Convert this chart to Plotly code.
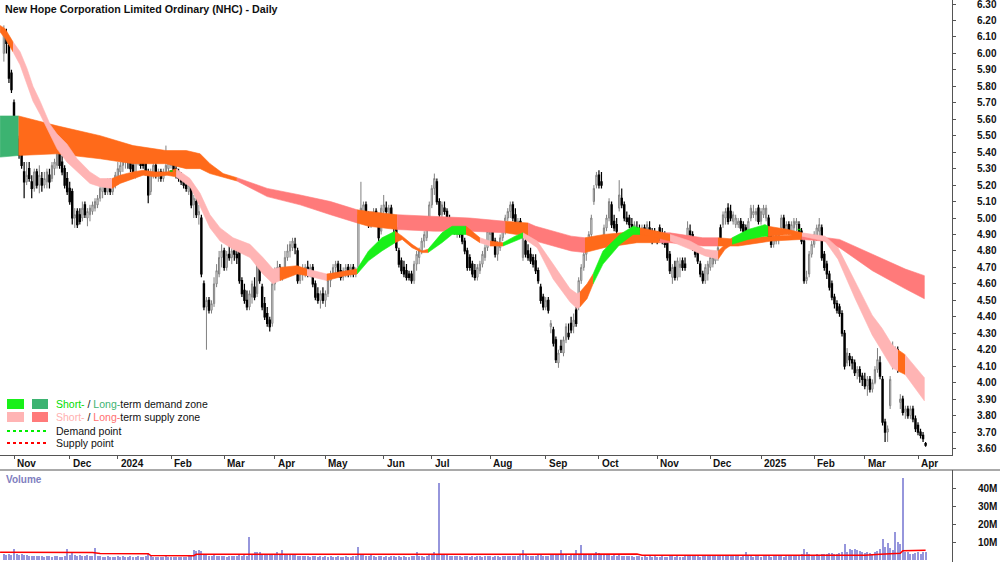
import plotly.graph_objects as go
import pandas as pd

# ---------------- data ----------------
holidays = ['2023-12-25', '2023-12-26', '2024-01-01', '2024-01-26', '2024-03-29', '2024-04-01',
            '2024-04-25', '2024-06-10', '2024-12-25', '2024-12-26', '2025-01-01', '2025-01-27']
dates = pd.bdate_range('2023-10-26', '2025-04-04', freq='C', holidays=holidays)

opens = [6.00, 6.10, 6.05, 5.88, 5.70, 5.45, 5.48, 5.40, 5.28, 5.22, 5.30, 5.22, 5.18, 5.28, 5.20, 5.24, 5.20, 5.22, 5.26, 5.24,
         5.30, 5.32, 5.42, 5.34, 5.30, 5.24, 5.18, 5.16, 5.00, 5.04, 5.02, 5.00, 5.08, 5.00, 5.02, 5.04, 5.06, 5.08, 5.12, 5.16,
         5.18, 5.16, 5.22, 5.16, 5.20, 5.24, 5.28, 5.32, 5.34, 5.36, 5.36, 5.32, 5.26, 5.34, 5.38, 5.38, 5.34, 5.28, 5.16, 5.26,
         5.32, 5.26, 5.28, 5.24, 5.28, 5.30, 5.32, 5.34, 5.30, 5.28, 5.26, 5.24, 5.20, 5.16, 5.18, 5.08, 5.10, 5.02, 5.00, 4.60,
         4.46, 4.50, 4.44, 4.48, 4.60, 4.66, 4.76, 4.80, 4.70, 4.78, 4.76, 4.80, 4.78, 4.80, 4.62, 4.56, 4.50, 4.46, 4.52, 4.58,
         4.54, 4.74, 4.58, 4.48, 4.42, 4.38, 4.36, 4.60, 4.66, 4.70, 4.64, 4.68, 4.76, 4.80, 4.82, 4.84, 4.80, 4.62, 4.66, 4.68,
         4.70, 4.66, 4.70, 4.60, 4.54, 4.50, 4.54, 4.50, 4.54, 4.62, 4.66, 4.70, 4.72, 4.68, 4.64, 4.68, 4.70, 4.66, 4.70, 4.66,
         4.70, 5.00, 5.04, 5.08, 5.00, 4.96, 5.00, 5.04, 4.98, 4.92, 5.04, 5.06, 5.02, 5.06, 5.00, 4.94, 4.80, 4.74, 4.70, 4.68,
         4.66, 4.66, 4.62, 4.72, 4.76, 4.80, 4.86, 4.88, 4.96, 5.08, 5.18, 5.22, 5.10, 5.02, 5.06, 5.04, 4.98, 4.98, 4.96, 4.90,
         4.96, 4.92, 4.86, 4.80, 4.76, 4.72, 4.68, 4.64, 4.68, 4.72, 4.76, 4.82, 4.90, 4.94, 4.86, 4.78, 4.82, 4.88, 4.94, 5.00,
         5.04, 5.08, 5.02, 4.96, 4.98, 4.76, 4.86, 4.80, 4.78, 4.76, 4.74, 4.68, 4.58, 4.52, 4.46, 4.50, 4.34, 4.32, 4.26, 4.12,
         4.22, 4.18, 4.26, 4.30, 4.36, 4.34, 4.44, 4.46, 4.62, 4.70, 4.78, 4.84, 4.90, 5.10, 5.20, 5.26, 5.22, 4.88, 4.94, 5.00,
         5.08, 4.98, 4.96, 5.06, 5.12, 5.08, 5.00, 5.00, 4.96, 4.90, 4.94, 4.92, 4.88, 4.94, 4.88, 4.94, 4.90, 4.90, 4.88, 4.94,
         4.88, 4.90, 4.88, 4.78, 4.64, 4.70, 4.64, 4.70, 4.74, 4.72, 4.86, 4.92, 4.90, 4.84, 4.82, 4.72, 4.66, 4.62, 4.66, 4.70,
         4.72, 4.74, 4.76, 4.94, 4.96, 5.00, 5.06, 5.04, 4.98, 4.96, 4.96, 4.98, 4.96, 4.94, 4.92, 5.00, 5.02, 5.02, 5.06, 4.98,
         5.02, 5.00, 5.00, 4.90, 4.84, 4.86, 4.88, 4.94, 5.00, 4.92, 4.96, 4.92, 4.94, 4.96, 4.96, 4.92, 4.86, 4.62, 4.66, 4.78,
         4.84, 4.88, 4.92, 4.94, 4.78, 4.72, 4.66, 4.60, 4.52, 4.48, 4.46, 4.42, 4.30, 4.12, 4.16, 4.14, 4.12, 4.06, 4.08, 4.04,
         4.02, 3.98, 4.02, 3.96, 4.00, 4.08, 4.12, 4.02, 3.76, 3.70, 3.86, 4.10, 4.16, 4.20, 3.88, 3.90, 3.82, 3.84, 3.80, 3.84,
         3.78, 3.74, 3.70, 3.68, 3.63]
highs = [6.17, 6.15, 6.08, 5.90, 5.72, 5.58, 5.50, 5.42, 5.34, 5.34, 5.34, 5.26, 5.30, 5.30, 5.32, 5.28, 5.28, 5.30, 5.30, 5.34,
         5.36, 5.46, 5.44, 5.38, 5.32, 5.28, 5.22, 5.18, 5.06, 5.06, 5.06, 5.10, 5.10, 5.06, 5.08, 5.10, 5.12, 5.14, 5.20, 5.22,
         5.22, 5.24, 5.24, 5.22, 5.28, 5.34, 5.34, 5.38, 5.40, 5.40, 5.44, 5.34, 5.36, 5.40, 5.40, 5.40, 5.36, 5.30, 5.30, 5.34,
         5.34, 5.30, 5.30, 5.30, 5.44, 5.36, 5.36, 5.36, 5.32, 5.30, 5.28, 5.26, 5.22, 5.22, 5.20, 5.14, 5.12, 5.08, 5.02, 4.62,
         4.52, 4.52, 4.50, 4.64, 4.72, 4.80, 4.84, 4.82, 4.80, 4.84, 4.82, 4.84, 4.82, 4.82, 4.64, 4.60, 4.56, 4.56, 4.62, 4.64,
         4.74, 4.76, 4.60, 4.52, 4.46, 4.40, 4.64, 4.70, 4.74, 4.72, 4.70, 4.80, 4.84, 4.86, 4.88, 4.88, 4.82, 4.68, 4.72, 4.72,
         4.74, 4.72, 4.72, 4.62, 4.58, 4.56, 4.58, 4.56, 4.64, 4.68, 4.72, 4.74, 4.74, 4.72, 4.70, 4.72, 4.72, 4.72, 4.72, 4.70,
         5.04, 5.22, 5.10, 5.10, 5.04, 5.04, 5.06, 5.06, 5.00, 5.08, 5.14, 5.10, 5.08, 5.08, 5.02, 4.96, 4.82, 4.76, 4.74, 4.72,
         4.68, 4.68, 4.74, 4.80, 4.82, 4.88, 4.92, 4.98, 5.10, 5.20, 5.27, 5.24, 5.12, 5.10, 5.10, 5.06, 5.02, 5.00, 4.98, 4.98,
         4.98, 4.94, 4.88, 4.82, 4.78, 4.74, 4.72, 4.72, 4.74, 4.80, 4.84, 4.94, 4.96, 4.96, 4.88, 4.86, 4.90, 4.96, 5.02, 5.06,
         5.10, 5.10, 5.06, 5.00, 5.00, 4.92, 4.88, 4.84, 4.82, 4.78, 4.78, 4.70, 4.60, 4.54, 4.52, 4.52, 4.38, 4.34, 4.28, 4.20,
         4.26, 4.28, 4.36, 4.36, 4.40, 4.42, 4.46, 4.64, 4.72, 4.80, 4.86, 4.92, 5.02, 5.20, 5.28, 5.29, 5.28, 4.96, 5.02, 5.12,
         5.10, 5.02, 5.00, 5.23, 5.18, 5.10, 5.04, 5.02, 5.00, 4.98, 4.98, 4.96, 4.96, 4.96, 4.98, 4.98, 4.94, 4.94, 4.92, 4.96,
         4.94, 4.92, 4.90, 4.80, 4.72, 4.74, 4.76, 4.76, 4.76, 4.76, 4.98, 4.96, 4.92, 4.86, 4.84, 4.74, 4.68, 4.72, 4.74, 4.78,
         4.78, 4.80, 4.84, 4.96, 5.04, 5.06, 5.09, 5.08, 5.04, 5.02, 5.00, 5.00, 4.98, 4.96, 5.00, 5.08, 5.08, 5.06, 5.08, 5.06,
         5.08, 5.08, 5.02, 4.92, 4.90, 4.92, 4.92, 5.02, 5.02, 4.98, 4.98, 4.98, 5.00, 5.00, 4.98, 4.94, 4.88, 4.68, 4.80, 4.86,
         4.92, 4.96, 5.00, 4.96, 4.80, 4.74, 4.68, 4.62, 4.54, 4.50, 4.48, 4.44, 4.32, 4.21, 4.18, 4.16, 4.14, 4.10, 4.10, 4.06,
         4.06, 4.04, 4.04, 4.02, 4.10, 4.21, 4.16, 4.04, 3.78, 3.74, 4.04, 4.25, 4.22, 4.22, 3.93, 3.92, 3.86, 3.86, 3.86, 3.86,
         3.80, 3.76, 3.72, 3.70, 3.64]
lows = [5.95, 6.00, 5.82, 5.76, 5.42, 5.40, 5.36, 5.30, 5.12, 5.20, 5.22, 5.12, 5.16, 5.18, 5.15, 5.16, 5.18, 5.18, 5.18, 5.22,
        5.26, 5.30, 5.30, 5.26, 5.18, 5.14, 5.08, 4.96, 4.94, 4.94, 4.96, 4.98, 5.00, 4.95, 4.98, 5.02, 5.04, 5.06, 5.10, 5.12,
        5.14, 5.14, 5.14, 5.14, 5.18, 5.20, 5.22, 5.28, 5.30, 5.30, 5.28, 5.24, 5.24, 5.32, 5.30, 5.30, 5.26, 5.09, 5.14, 5.24,
        5.24, 5.22, 5.22, 5.22, 5.26, 5.28, 5.30, 5.26, 5.24, 5.22, 5.20, 5.18, 5.16, 5.14, 5.06, 5.00, 5.00, 4.96, 4.64, 4.44,
        4.20, 4.42, 4.42, 4.46, 4.58, 4.64, 4.70, 4.68, 4.68, 4.74, 4.72, 4.74, 4.72, 4.60, 4.52, 4.48, 4.44, 4.44, 4.48, 4.50,
        4.52, 4.60, 4.44, 4.38, 4.34, 4.31, 4.34, 4.56, 4.62, 4.62, 4.62, 4.66, 4.74, 4.76, 4.80, 4.78, 4.60, 4.60, 4.62, 4.64,
        4.64, 4.64, 4.58, 4.50, 4.48, 4.45, 4.48, 4.46, 4.52, 4.58, 4.64, 4.66, 4.64, 4.62, 4.62, 4.64, 4.64, 4.64, 4.64, 4.64,
        4.68, 4.98, 5.00, 5.00, 4.94, 4.94, 4.98, 4.96, 4.86, 4.90, 5.00, 5.00, 5.00, 4.98, 4.90, 4.80, 4.70, 4.66, 4.64, 4.62,
        4.62, 4.60, 4.60, 4.68, 4.72, 4.78, 4.82, 4.86, 4.94, 5.06, 5.14, 5.08, 5.00, 5.00, 5.02, 4.96, 4.94, 4.92, 4.90, 4.88,
        4.88, 4.84, 4.78, 4.68, 4.68, 4.64, 4.62, 4.62, 4.66, 4.70, 4.74, 4.80, 4.86, 4.84, 4.76, 4.74, 4.80, 4.86, 4.90, 4.98,
        5.00, 4.98, 4.94, 4.92, 4.90, 4.74, 4.76, 4.74, 4.72, 4.70, 4.66, 4.60, 4.48, 4.44, 4.44, 4.42, 4.30, 4.22, 4.12, 4.09,
        4.18, 4.16, 4.24, 4.26, 4.30, 4.30, 4.34, 4.44, 4.60, 4.68, 4.74, 4.80, 4.88, 5.08, 5.18, 5.18, 5.18, 4.86, 4.92, 4.98,
        4.94, 4.92, 4.90, 5.04, 5.06, 4.98, 4.96, 4.94, 4.90, 4.88, 4.88, 4.86, 4.86, 4.88, 4.86, 4.88, 4.84, 4.86, 4.84, 4.86,
        4.84, 4.82, 4.74, 4.66, 4.60, 4.62, 4.62, 4.64, 4.68, 4.68, 4.84, 4.86, 4.80, 4.76, 4.72, 4.64, 4.60, 4.60, 4.62, 4.68,
        4.70, 4.72, 4.74, 4.84, 4.94, 4.96, 4.96, 4.98, 4.96, 4.94, 4.94, 4.92, 4.90, 4.86, 4.90, 4.98, 5.00, 4.98, 4.96, 4.96,
        5.00, 4.98, 4.86, 4.82, 4.82, 4.84, 4.84, 4.92, 4.92, 4.90, 4.90, 4.90, 4.92, 4.92, 4.90, 4.84, 4.60, 4.60, 4.64, 4.76,
        4.82, 4.86, 4.88, 4.74, 4.68, 4.63, 4.56, 4.50, 4.45, 4.42, 4.40, 4.28, 4.08, 4.10, 4.10, 4.08, 4.04, 4.02, 4.00, 3.98,
        3.96, 3.92, 3.94, 3.94, 3.99, 4.06, 4.02, 3.74, 3.64, 3.64, 3.84, 4.08, 4.12, 4.06, 3.84, 3.80, 3.78, 3.78, 3.78, 3.76,
        3.70, 3.68, 3.66, 3.64, 3.61]
closes = [6.12, 6.06, 5.85, 5.78, 5.45, 5.52, 5.38, 5.32, 5.22, 5.26, 5.24, 5.18, 5.28, 5.20, 5.26, 5.20, 5.24, 5.28, 5.22, 5.32,
          5.34, 5.42, 5.32, 5.28, 5.20, 5.16, 5.10, 5.00, 5.02, 4.96, 4.98, 5.06, 5.02, 5.04, 5.06, 5.08, 5.10, 5.12, 5.18, 5.20,
          5.16, 5.22, 5.16, 5.20, 5.26, 5.30, 5.32, 5.36, 5.38, 5.34, 5.30, 5.26, 5.34, 5.38, 5.32, 5.32, 5.28, 5.14, 5.28, 5.32,
          5.26, 5.28, 5.24, 5.28, 5.32, 5.34, 5.34, 5.28, 5.26, 5.24, 5.22, 5.20, 5.18, 5.20, 5.08, 5.12, 5.02, 5.04, 4.66, 4.46,
          4.50, 4.44, 4.48, 4.60, 4.68, 4.76, 4.80, 4.70, 4.78, 4.76, 4.80, 4.78, 4.76, 4.62, 4.54, 4.50, 4.46, 4.54, 4.60, 4.52,
          4.72, 4.62, 4.46, 4.40, 4.36, 4.34, 4.60, 4.66, 4.70, 4.64, 4.68, 4.76, 4.80, 4.84, 4.86, 4.82, 4.62, 4.66, 4.68, 4.70,
          4.66, 4.70, 4.60, 4.52, 4.50, 4.54, 4.50, 4.54, 4.62, 4.66, 4.70, 4.72, 4.66, 4.64, 4.68, 4.70, 4.66, 4.70, 4.66, 4.68,
          5.02, 5.06, 5.08, 5.02, 4.96, 5.02, 5.04, 4.98, 4.88, 5.06, 5.08, 5.04, 5.06, 5.00, 4.94, 4.82, 4.72, 4.68, 4.66, 4.64,
          4.64, 4.62, 4.72, 4.78, 4.80, 4.86, 4.90, 4.96, 5.08, 5.18, 5.24, 5.10, 5.02, 5.08, 5.04, 4.98, 4.96, 4.94, 4.92, 4.96,
          4.90, 4.86, 4.80, 4.70, 4.70, 4.66, 4.64, 4.70, 4.72, 4.78, 4.82, 4.92, 4.94, 4.86, 4.78, 4.84, 4.88, 4.94, 5.00, 5.04,
          5.08, 5.00, 4.96, 4.98, 4.92, 4.88, 4.78, 4.76, 4.74, 4.72, 4.68, 4.62, 4.50, 4.46, 4.50, 4.44, 4.36, 4.24, 4.14, 4.18,
          4.20, 4.26, 4.34, 4.28, 4.32, 4.38, 4.36, 4.62, 4.70, 4.78, 4.84, 4.90, 5.00, 5.18, 5.26, 5.20, 5.20, 4.94, 5.00, 5.10,
          4.96, 4.94, 4.92, 5.14, 5.08, 5.00, 4.98, 4.96, 4.94, 4.96, 4.92, 4.90, 4.94, 4.90, 4.96, 4.92, 4.88, 4.88, 4.86, 4.88,
          4.86, 4.84, 4.76, 4.68, 4.70, 4.64, 4.74, 4.72, 4.70, 4.70, 4.94, 4.90, 4.82, 4.78, 4.74, 4.66, 4.62, 4.70, 4.72, 4.76,
          4.76, 4.78, 4.82, 4.88, 5.02, 5.04, 4.98, 5.00, 5.02, 5.00, 4.98, 4.94, 4.92, 4.88, 4.98, 5.06, 5.04, 5.04, 4.98, 5.04,
          5.06, 5.06, 4.88, 4.84, 4.88, 4.90, 4.90, 5.00, 4.94, 4.96, 4.92, 4.96, 4.98, 4.98, 4.92, 4.86, 4.62, 4.64, 4.78, 4.84,
          4.90, 4.94, 4.96, 4.76, 4.70, 4.66, 4.58, 4.52, 4.48, 4.44, 4.42, 4.30, 4.10, 4.18, 4.14, 4.12, 4.06, 4.08, 4.04, 4.02,
          3.98, 4.02, 3.96, 4.00, 4.08, 4.14, 4.04, 3.76, 3.70, 3.72, 4.02, 4.18, 4.20, 4.08, 3.90, 3.82, 3.84, 3.80, 3.84, 3.78,
          3.72, 3.70, 3.68, 3.66, 3.62]

volume_m = [3.2, 2.8, 3.5, 3.0, 6.1, 3.4, 2.9, 3.1, 2.6, 2.7, 2.4, 2.2, 2.5, 2.0, 2.3, 2.1, 1.9, 2.2, 2.0, 1.8,
            2.1, 2.4, 1.9, 1.7, 2.0, 6.1, 3.0, 4.6, 2.6, 2.4, 2.8, 2.5, 2.2, 2.6, 2.3, 2.1, 6.6, 2.4, 2.0, 1.9,
            1.8, 2.1, 1.7, 1.6, 1.9, 2.2, 1.8, 2.0, 1.7, 1.9, 2.3, 1.8, 1.6, 2.0, 1.7, 1.9, 2.1, 3.9, 2.2, 1.8,
            1.7, 1.9, 1.6, 1.8, 2.0, 1.7, 1.5, 1.8, 1.6, 1.9, 1.7, 1.5, 1.8, 2.2, 2.6, 5.6, 4.8, 5.6, 5.2, 3.4,
            2.8, 2.5, 2.2, 2.6, 2.3, 2.0, 2.4, 2.2, 1.9, 2.1, 2.5, 2.0, 2.3, 2.6, 2.2, 3.0, 2.4, 13.0, 2.8, 4.6,
            4.4, 4.6, 3.2, 2.8, 3.0, 3.4, 2.6, 3.0, 4.2, 3.6, 5.6, 3.2, 2.8, 3.0, 2.6, 2.9, 2.4, 2.2, 2.0, 2.3,
            2.1, 1.9, 2.2, 2.0, 1.8, 2.1, 1.9, 2.0, 1.7, 2.2, 1.9, 1.8, 2.0, 1.7, 1.9, 2.1, 1.8, 1.6, 2.0, 2.4,
            7.2, 3.6, 2.8, 2.4, 2.2, 2.6, 2.0, 1.8, 2.3, 2.1, 1.9, 2.2, 1.7, 2.0, 2.4, 1.9, 2.1, 1.8, 2.2, 1.6,
            1.9, 2.1, 2.3, 4.6, 2.0, 2.2, 1.8, 2.5, 2.8, 3.0, 4.6, 3.2, 42.8, 3.6, 3.0, 2.6, 2.4, 2.2, 2.0, 2.3,
            2.1, 1.9, 2.2, 2.0, 1.8, 2.1, 1.9, 2.3, 2.0, 1.8, 2.2, 2.4, 2.1, 1.9, 2.3, 2.0, 1.8, 2.2, 2.0, 2.4,
            2.2, 2.0, 2.3, 2.1, 2.6, 5.6, 2.8, 2.4, 2.2, 2.0, 2.3, 2.6, 2.9, 2.5, 2.2, 2.4, 2.8, 3.0, 2.6, 3.2,
            5.6, 3.0, 2.8, 2.5, 3.2, 3.0, 5.6, 2.9, 8.3, 3.4, 3.0, 2.8, 3.2, 3.6, 4.6, 3.8, 3.4, 3.0, 2.8, 2.6,
            2.4, 2.6, 2.2, 2.8, 2.4, 2.2, 2.0, 2.3, 2.1, 1.9, 2.2, 2.0, 1.8, 2.1, 1.9, 2.0, 1.7, 2.2, 1.9, 1.8,
            2.0, 1.7, 1.9, 2.3, 2.1, 1.8, 2.0, 1.9, 1.7, 2.0, 2.4, 2.2, 2.0, 2.3, 2.1, 1.9, 2.6, 2.2, 2.0, 2.4,
            2.2, 2.0, 2.5, 2.8, 2.4, 2.2, 2.6, 2.3, 2.0, 2.2, 2.1, 1.9, 2.3, 4.6, 2.4, 2.1, 1.9, 2.2, 2.0, 1.8,
            2.1, 2.3, 2.0, 1.9, 2.2, 2.0, 2.4, 2.1, 1.9, 2.3, 2.1, 2.0, 2.2, 2.4, 2.8, 3.6, 6.1, 4.2, 3.4, 3.0,
            2.8, 3.2, 2.9, 3.4, 3.6, 3.2, 3.8, 4.0, 3.6, 3.4, 3.8, 4.2, 8.9, 4.6, 5.9, 5.6, 5.9, 5.4, 4.8, 4.2,
            3.8, 4.4, 4.0, 3.6, 4.2, 5.2, 6.1, 11.7, 7.4, 9.4, 6.8, 5.8, 15.7, 9.8, 8.7, 45.7, 4.6, 4.2, 3.6, 3.2,
            3.8, 4.4, 3.6, 4.2, 4.6]

# volume average line (sampled: bar index, millions)
vol_avg_idx = [-1.5, 35, 38, 57, 58, 75, 76, 171, 172, 250, 252, 340, 346, 354, 355, 364]
vol_avg_m = [4.3, 4.2, 3.6, 3.5, 2.5, 2.4, 3.2, 3.2, 3.4, 3.3, 2.6, 2.6, 3.2, 3.7, 5.2, 5.4]

# short-term zone: bar index, upper, lower, state (D=demand, S=supply, N=neutral)
st_idx = [-1.5, 0.5, 3.6, 6.4, 9.1, 11.5, 14.3, 18.2, 21.0, 24.9, 28.9, 34.0, 38.0, 42.7, 45.9, 51.0, 55.0, 59.7,
          64.4, 68.0, 73.5, 77.5, 81.4, 85.4, 90.5, 97.2, 102.3, 106.3, 109.0, 115.8, 119.7, 127.5, 134.7, 139.5,
          144.0, 149.3, 154.5, 157.3, 161.2, 165.1, 167.5, 173.0, 177.0, 182.5, 184.1, 188.0, 192.0, 197.1, 201.9,
          205.0, 210.6, 216.9, 223.6, 226.4, 227.5, 230.3, 232.7, 236.6, 243.3, 248.5, 251.2, 258.0, 263.1, 271.0,
          276.9, 282.1, 284.8, 287.6, 293.9, 300.6, 301.8, 309.7, 315.2, 324.3, 329.4, 336.2, 342.9, 346.8, 350.8,
          353.1, 355.9, 363.5]
st_hi = [6.17, 6.15, 6.07, 6.01, 5.91, 5.80, 5.71, 5.57, 5.51, 5.45, 5.36, 5.28, 5.24, 5.24, 5.26, 5.28, 5.29, 5.28,
         5.28, 5.30, 5.24, 5.15, 5.02, 4.94, 4.88, 4.84, 4.76, 4.69, 4.70, 4.71, 4.69, 4.66, 4.68, 4.69,
         4.80, 4.88, 4.92, 4.89, 4.84, 4.80, 4.81, 4.91, 4.95, 4.95, 4.93, 4.88, 4.86, 4.85, 4.89,
         4.91, 4.86, 4.72, 4.57, 4.54, 4.55, 4.60, 4.66, 4.80, 4.90, 4.95, 4.94, 4.92, 4.90, 4.86,
         4.81, 4.80, 4.84, 4.88, 4.93, 4.96, 4.95, 4.93, 4.91, 4.89, 4.82, 4.61, 4.41, 4.33, 4.23,
         4.20, 4.17, 4.03]
st_lo = [6.13, 6.09, 6.01, 5.93, 5.81, 5.71, 5.63, 5.51, 5.42, 5.34, 5.28, 5.21, 5.19, 5.18, 5.21, 5.24, 5.26, 5.25,
         5.26, 5.25, 5.19, 5.07, 4.94, 4.86, 4.81, 4.76, 4.66, 4.60, 4.62, 4.66, 4.65, 4.62, 4.65, 4.66,
         4.74, 4.80, 4.85, 4.87, 4.82, 4.79, 4.79, 4.85, 4.90, 4.90, 4.89, 4.85, 4.83, 4.83, 4.86,
         4.88, 4.82, 4.63, 4.49, 4.45, 4.46, 4.51, 4.60, 4.72, 4.84, 4.90, 4.90, 4.88, 4.86, 4.81,
         4.77, 4.75, 4.81, 4.84, 4.87, 4.89, 4.89, 4.90, 4.89, 4.86, 4.75, 4.51, 4.29, 4.19, 4.09,
         4.07, 4.05, 3.89]
st_state = ['N', 'N', 'S', 'S', 'S', 'S', 'S', 'S', 'S', 'S', 'S', 'S', 'S', 'N', 'N', 'N', 'N', 'N',
            'N', 'S', 'S', 'S', 'S', 'S', 'S', 'S', 'S', 'S', 'N', 'N', 'S', 'N', 'N', 'D',
            'D', 'D', 'N', 'N', 'N', 'N', 'D', 'D', 'D', 'N', 'N', 'S', 'N', 'D', 'D',
            'S', 'S', 'S', 'S', 'S', 'N', 'N', 'D', 'D', 'D', 'D', 'N', 'N', 'S', 'S',
            'S', 'N', 'N', 'D', 'D', 'D', 'N', 'N', 'S', 'S', 'S', 'S', 'S', 'S', 'S',
            'N', 'S', 'S']

# long-term zone
lt_idx = [-1.5, 5.8, 21, 38, 51, 64, 72, 77.5, 81.4, 86.6, 92, 104, 117, 129, 139.5, 144, 155.3, 170, 184, 198,
          207, 210, 224, 229.5, 237, 250, 259, 263, 276, 282, 290, 303, 315, 324, 330, 343, 356, 363.5]
lt_hi = [5.62, 5.62, 5.56, 5.50, 5.44, 5.41, 5.41, 5.39, 5.33, 5.27, 5.245, 5.18, 5.14, 5.10, 5.05, 5.04, 5.02, 5.01,
         5.00, 4.98, 4.97, 4.95, 4.89, 4.88, 4.90, 4.92, 4.91, 4.91, 4.88, 4.88, 4.87, 4.89, 4.90, 4.88, 4.87, 4.78,
         4.69, 4.65]
lt_lo = [5.37, 5.38, 5.39, 5.36, 5.33, 5.33, 5.30, 5.30, 5.27, 5.25, 5.225, 5.13, 5.08, 5.02, 4.97, 4.95, 4.93, 4.92,
         4.92, 4.91, 4.89, 4.86, 4.80, 4.79, 4.82, 4.85, 4.85, 4.85, 4.83, 4.83, 4.83, 4.86, 4.87, 4.86, 4.82, 4.68,
         4.57, 4.51]
lt_state = ['D', 'N', 'N', 'N', 'N', 'N', 'N', 'N', 'N', 'N', 'S', 'S', 'S', 'S', 'N', 'N', 'S', 'S', 'S', 'N',
            'S', 'S', 'S', 'N', 'N', 'N', 'S', 'S', 'S', 'N', 'N', 'N', 'S', 'S', 'S', 'S', 'S', 'S']

# demand points (bar index start, end, price)
demand_pts = [(65.5, 68.0, 5.285), (313.5, 315.5, 4.93)]

price_ticks = [round(3.6 + 0.1 * i, 2) for i in range(28)]
vol_ticks_m = [10, 20, 30, 40]

# ---------------- styling ----------------
COL = {
    'st': {'D': '#19f019', 'S': '#ffb4b4', 'N': '#ff6a1a'},
    'lt': {'D': '#3cb371', 'S': '#ff7a7a', 'N': '#ff6a1a'},
}
FONT = 'Liberation Sans'
W, H = 1000, 562
PLOT_R = 952
PRICE_BOTTOM_PX = 455
VOL_TOP_PX = 470

xs = list(range(len(dates)))
n_bars = len(dates)

# bar index <-> pixel mapping from month ticks (Nov-2023 at px 14, Apr-2025 at px 918)
month_idx = [i for i in range(1, n_bars) if dates[i].month != dates[i - 1].month]
month_lbl = [str(dates[i].year) if dates[i].month == 1 else dates[i].strftime('%b') for i in month_idx]
i_nov, i_apr = month_idx[0], month_idx[-1]
ppb = (918 - 14) / (i_apr - i_nov)
x0 = i_nov - 14 / ppb
x1 = i_nov + (PLOT_R - 14) / ppb

def py(px):
    return 1 - px / H

def pxx(px):
    return px / PLOT_R

fig = go.Figure()

def add_band(idx, hi, lo, state, cmap):
    i = 0
    n = len(idx)
    while i < n - 1:
        s = state[i]
        j = i
        while j < n - 1 and state[j] == s:
            j += 1
        bx = idx[i:j + 1] + idx[i:j + 1][::-1]
        by = hi[i:j + 1] + lo[i:j + 1][::-1]
        fig.add_trace(go.Scatter(x=bx, y=by, fill='toself', fillcolor=cmap[s], mode='lines',
                                 line=dict(width=0.6, color=cmap[s]), hoverinfo='skip', showlegend=False,
                                 xaxis='x', yaxis='y'))
        i = j

add_band(lt_idx, lt_hi, lt_lo, lt_state, COL['lt'])
add_band(st_idx, st_hi, st_lo, st_state, COL['st'])

for a, b, p in demand_pts:
    fig.add_trace(go.Scatter(x=[a, b], y=[p, p], mode='lines', line=dict(color='#00cc00', width=1.5, dash='dot'),
                             hoverinfo='skip', showlegend=False))

fig.add_trace(go.Candlestick(
    x=xs, open=opens, high=highs, low=lows, close=closes,
    increasing=dict(line=dict(color='#808080', width=1), fillcolor='white'),
    decreasing=dict(line=dict(color='black', width=1.2), fillcolor='black'),
    whiskerwidth=0, showlegend=False, xaxis='x', yaxis='y'))

fig.add_trace(go.Bar(x=xs, y=[v * 1e6 for v in volume_m], marker=dict(color='#9696dc', line=dict(width=0)),
                     width=0.4, showlegend=False, xaxis='x2', yaxis='y2'))
fig.add_trace(go.Scatter(x=vol_avg_idx, y=[v * 1e6 for v in vol_avg_m], mode='lines',
                         line=dict(color='#ff0000', width=1.5), showlegend=False, xaxis='x2', yaxis='y2'))

fig.update_layout(
    width=W, height=H, margin=dict(l=0, r=W - PLOT_R, t=0, b=0),
    paper_bgcolor='white', plot_bgcolor='white', showlegend=False,
    xaxis=dict(domain=[0, 1], range=[x0, x1], showgrid=False, zeroline=False, showline=True,
               linecolor='#555555', linewidth=1, ticks='outside', ticklen=3, tickcolor='#555555',
               tickvals=month_idx, showticklabels=False, rangeslider=dict(visible=False),
               anchor='y', fixedrange=True),
    yaxis=dict(domain=[py(PRICE_BOTTOM_PX), 1], range=[3.6 - 6.5 / 164.6, 6.3 + 4 / 164.6], side='right',
               showgrid=False, zeroline=False, showline=True, linecolor='#555555', linewidth=1,
               ticks='outside', ticklen=3, tickcolor='#555555', tickvals=price_ticks,
               showticklabels=False, anchor='x'),
    xaxis2=dict(domain=[0, 1], range=[x0, x1], showgrid=False, zeroline=False, showline=False,
                showticklabels=False, ticks='', anchor='y2', matches='x'),
    yaxis2=dict(domain=[0, py(VOL_TOP_PX)], range=[-1.1e6, 50e6], side='right', showgrid=False, zeroline=False,
                showline=True, linecolor='#555555', linewidth=1, ticks='outside', ticklen=3, tickcolor='#555555',
                tickvals=[v * 1e6 for v in vol_ticks_m], showticklabels=False, anchor='x2'),
    bargap=0,
)

tickfont = dict(family=FONT, size=10, color='#111111', weight='bold')
# right-aligned axis labels placed on the axes' own scales
for v in price_ticks:
    fig.add_annotation(x=pxx(999), xref='paper', y=v, yref='y', text=f'{v:.2f}', showarrow=False,
                       xanchor='right', yanchor='middle', font=tickfont)
for v in vol_ticks_m:
    fig.add_annotation(x=pxx(999), xref='paper', y=v * 1e6, yref='y2', text=f'{v}M', showarrow=False,
                       xanchor='right', yanchor='middle', font=tickfont)

# separator line at top of volume panel
fig.add_shape(type='line', xref='paper', yref='paper', x0=0, x1=W / PLOT_R, y0=py(VOL_TOP_PX), y1=py(VOL_TOP_PX),
              line=dict(color='#555555', width=1))

# month labels
for i, lbl in zip(month_idx, month_lbl):
    fig.add_annotation(x=i, xref='x', y=py(463), yref='paper', text=lbl, showarrow=False, xanchor='left',
                       yanchor='middle', xshift=1, font=dict(family=FONT, size=10, color='#111111', weight='bold'))

# title
fig.add_annotation(x=pxx(3), xref='paper', y=py(9), yref='paper', xanchor='left', yanchor='middle',
                   text='New Hope Corporation Limited Ordinary (NHC) - Daily', showarrow=False,
                   font=dict(family=FONT, size=10.7, color='#111111', weight='bold'))

# volume label
fig.add_annotation(x=pxx(4), xref='paper', y=py(479), yref='paper', xanchor='left', yanchor='middle',
                   text='Volume', showarrow=False, font=dict(family=FONT, size=10, color='#8080c0', weight='bold'))

# zone legend
rows = [
    (404, COL['st']['D'], COL['lt']['D'], '#00dd00', '#3cb371', 'demand zone'),
    (417, COL['st']['S'], COL['lt']['S'], '#ffb0b0', '#ff6f6f', 'supply zone'),
]
for yc, c1, c2, t1, t2, word in rows:
    fig.add_shape(type='rect', xref='paper', yref='paper', x0=pxx(7), x1=pxx(24), y0=py(yc - 5), y1=py(yc + 5),
                  fillcolor=c1, line=dict(width=0))
    fig.add_shape(type='rect', xref='paper', yref='paper', x0=pxx(32), x1=pxx(48), y0=py(yc - 5), y1=py(yc + 5),
                  fillcolor=c2, line=dict(width=0))
    fig.add_annotation(x=pxx(54), xref='paper', y=py(yc), yref='paper', xanchor='left', yanchor='middle',
                       showarrow=False,
                       text=f'<span style="color:{t1}">Short-</span> / <span style="color:{t2}">Long-</span>term {word}',
                       font=dict(family=FONT, size=10.5, color='#111111'))
for yc, c, word in [(431, '#00ee00', 'Demand point'), (443, '#ff0000', 'Supply point')]:
    fig.add_shape(type='line', xref='paper', yref='paper', x0=pxx(7), x1=pxx(48), y0=py(yc), y1=py(yc),
                  line=dict(color=c, width=2, dash='dot'))
    fig.add_annotation(x=pxx(54), xref='paper', y=py(yc), yref='paper', xanchor='left', yanchor='middle',
                       showarrow=False, text=word, font=dict(family=FONT, size=10.5, color='#111111'))

fig.write_html('out.html')
